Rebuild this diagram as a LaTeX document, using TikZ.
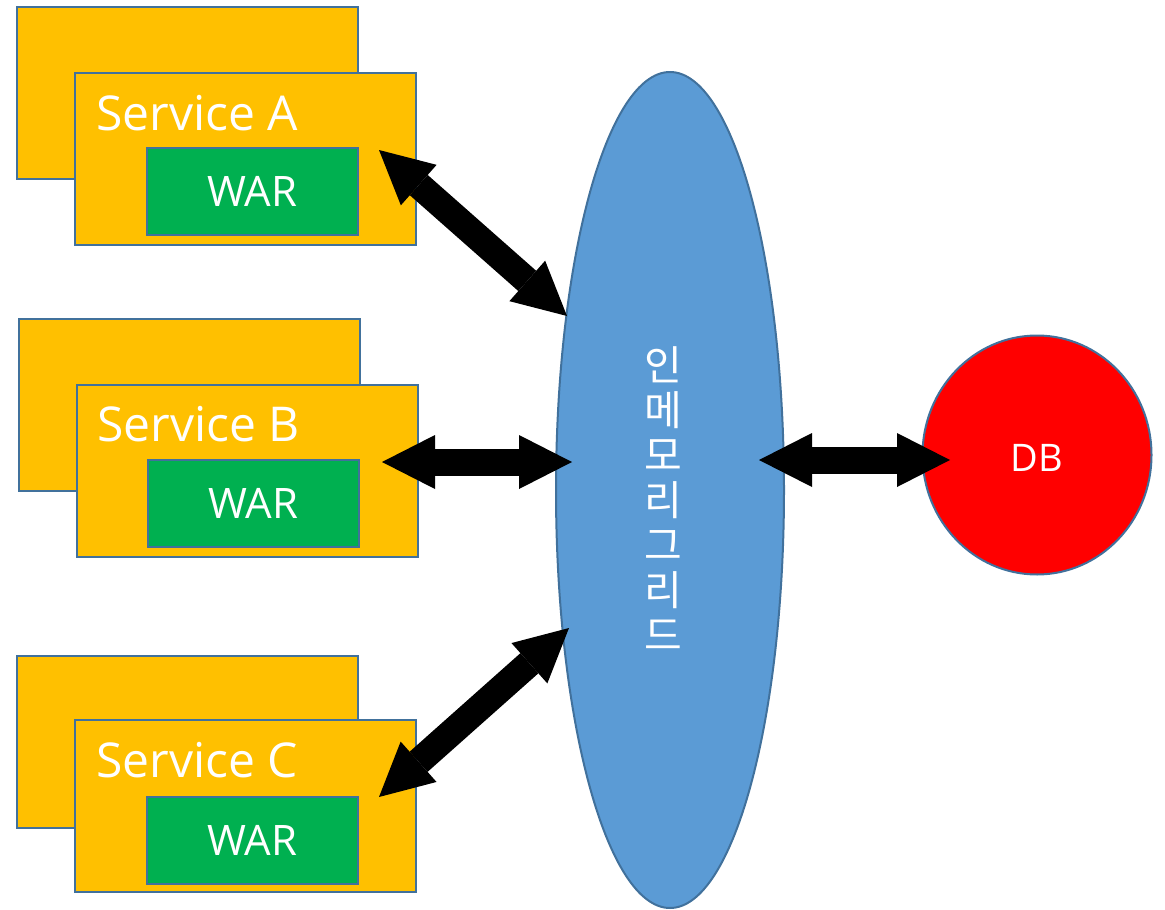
\documentclass[tikz,border=0pt]{standalone}
\usepackage{fontspec}
\setmainfont{Open Sans}
\newfontfamily\krfont{Noto Sans CJK KR}
\usetikzlibrary{arrows.meta,shapes.geometric}

\definecolor{svc}{HTML}{FFC000}
\definecolor{war}{HTML}{00B050}
\definecolor{gridblue}{HTML}{5B9BD5}
\definecolor{dbred}{HTML}{FF0000}
\definecolor{edge}{HTML}{41719C}

\begin{document}
\begin{tikzpicture}[x=1pt,y=-1pt,
  svcbox/.style={draw=edge, line width=2pt, fill=svc, rectangle, inner sep=0pt,
    anchor=north west, minimum width=341pt, minimum height=172pt},
  warbox/.style={draw=edge, line width=2pt, fill=war, rectangle, inner sep=0pt,
    anchor=north west, minimum width=211pt, minimum height=87pt,
    text=white, font=\fontsize{42}{50}\selectfont},
  svclabel/.style={anchor=base west, inner sep=0pt, text=white,
    font=\fontsize{48}{56}\selectfont},
  blockarrow/.style={line width=27pt,
    {Triangle[length=53pt,width=54pt,line width=0pt]}-{Triangle[length=53pt,width=54pt,line width=0pt]}}
]
\useasboundingbox (0,0) rectangle (1165,910);

% --- Service A ---
\node[svcbox] (backA) at (16,6) {};
\node[svcbox] (frontA) at (74,72) {};
\node[svclabel] (labA) at (96,130) {Service A};
\node[warbox] (warA) at (146,147) {WAR};

% --- Service B ---
\node[svcbox] (backB) at (18,318) {};
\node[svcbox] (frontB) at (76,384) {};
\node[svclabel] (labB) at (97,441) {Service B};
\node[warbox] (warB) at (147,459) {WAR};

% --- Service C ---
\node[svcbox] (backC) at (16,655) {};
\node[svcbox] (frontC) at (74,719) {};
\node[svclabel] (labC) at (96,777) {Service C};
\node[warbox] (warC) at (146,796) {WAR};

% --- in-memory grid ---
\node[ellipse, draw=edge, line width=2pt, fill=gridblue, inner sep=0pt,
  minimum width=228pt, minimum height=836pt] (grid) at (670,490) {};
\node[text=white, align=center, inner sep=0pt,
  font=\krfont\fontsize{41}{45}\selectfont] (gridtxt) at (663,499)
  {인\\메\\모\\리\\그\\리\\드};

% --- database ---
\node[ellipse, draw=edge, line width=2pt, fill=dbred, inner sep=0pt,
  minimum width=229pt, minimum height=239pt] (db) at (1037,455) {};
\node[text=white, inner sep=0pt, font=\fontsize{38}{46}\selectfont] (dbtxt) at (1037,458) {DB};

% --- arrow end points ---
\coordinate (aS) at (379,150);
\coordinate (aG) at (567,316);
\coordinate (bS) at (382,462);
\coordinate (bG) at (572,462);
\coordinate (cS) at (379,797);
\coordinate (cG) at (569,628);
\coordinate (dG) at (759,460);
\coordinate (dD) at (950,460);

\draw[blockarrow] (aS) -- (aG);
\draw[blockarrow] (bS) -- (bG);
\draw[blockarrow] (cS) -- (cG);
\draw[blockarrow] (dG) -- (dD);
\end{tikzpicture}
\end{document}
